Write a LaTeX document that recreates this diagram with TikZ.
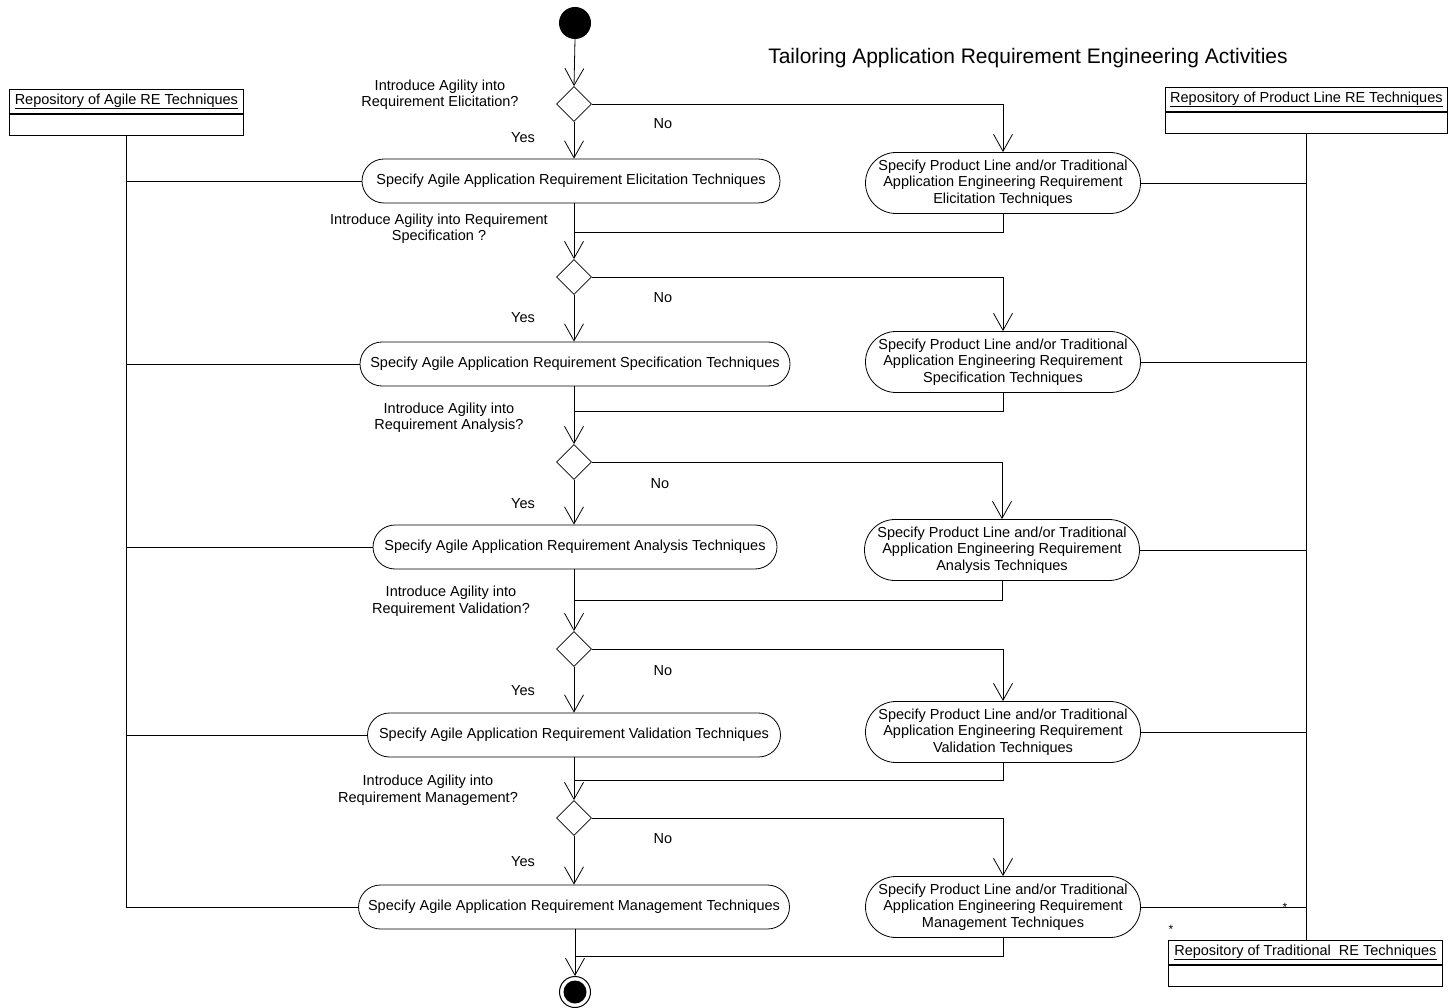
\documentclass[tikz,border=0pt]{standalone}
\usepackage{fontspec}
\setmainfont{Liberation Sans}
\usetikzlibrary{shapes.misc,shapes.geometric,arrows.meta}
\begin{document}
\begin{tikzpicture}[x=1pt,y=-1pt,
  every node/.style={font=\fontsize{14.5}{16.5}\selectfont},
  flow/.style={line width=0.8pt},
  arr/.style={flow,-{Straight Barb[length=17pt,width=19pt,line width=0.8pt]}},
  agile/.style={draw,line width=0.8pt,rounded rectangle,minimum height=44pt,inner sep=0pt},
  trad/.style={draw,line width=0.8pt,rounded rectangle,minimum height=61pt,minimum width=275pt,align=center,inner sep=0pt},
  dec/.style={draw,line width=0.8pt,diamond,aspect=1,minimum size=35pt,inner sep=0pt},
  repohead/.style={draw,line width=0.8pt,minimum height=24pt,inner sep=0pt,anchor=north west},
  repobody/.style={draw,line width=0.8pt,minimum height=21pt,inner sep=0pt,anchor=north},
  question/.style={align=center,font=\fontsize{14.5}{16.5}\selectfont},
  star/.style={font=\fontsize{12}{12}\selectfont}
]
\useasboundingbox (0,0) rectangle (1449,1008);

% title
\node (title) at (1028,58) {\fontsize{21}{23}\selectfont Tailoring Application Requirement Engineering Activities};

% start and end
\node (start) [circle,fill=black,minimum size=32pt,inner sep=0pt] at (575,23) {};
\node (end) [circle,draw,line width=1pt,minimum size=31pt,inner sep=0pt] at (575,992) {};
\fill (end.center) circle (11.5);

% decisions
\node (d1) [dec] at (574,104) {};
\node (d2) [dec] at (574,277) {};
\node (d3) [dec] at (574,462) {};
\node (d4) [dec] at (574,649) {};
\node (d5) [dec] at (574,818) {};

% agile activities
\node (a1) [agile,minimum width=418pt] at (571,181) {Specify Agile Application Requirement Elicitation Techniques};
\node (a2) [agile,minimum width=430pt] at (575,364) {Specify Agile Application Requirement Specification Techniques};
\node (a3) [agile,minimum width=404pt] at (575,547) {Specify Agile Application Requirement Analysis Techniques};
\node (a4) [agile,minimum width=413pt] at (574,735) {Specify Agile Application Requirement Validation Techniques};
\node (a5) [agile,minimum width=431pt] at (574,907) {Specify Agile Application Requirement Management Techniques};

% product line / traditional activities
\node (t1) [trad] at (1003,183) {Specify Product Line and/or Traditional\\Application Engineering Requirement\\Elicitation Techniques};
\node (t2) [trad] at (1003,362) {Specify Product Line and/or Traditional\\Application Engineering Requirement\\Specification Techniques};
\node (t3) [trad] at (1002,550) {Specify Product Line and/or Traditional\\Application Engineering Requirement\\Analysis Techniques};
\node (t4) [trad] at (1003,732) {Specify Product Line and/or Traditional\\Application Engineering Requirement\\Validation Techniques};
\node (t5) [trad] at (1003,907) {Specify Product Line and/or Traditional\\Application Engineering Requirement\\Management Techniques};

% merge points on the main flow
\coordinate (m1) at (575,232);
\coordinate (m2) at (575,411);
\coordinate (m3) at (575,600);
\coordinate (m4) at (575,780);
\coordinate (m5) at (575,956);

% repositories
\node (ra) [repohead,minimum width=234pt] at (9,89) {\underline{Repository of Agile RE Techniques}};
\node (rab) [repobody,minimum width=234pt] at (ra.south) {};
\node (rp) [repohead,minimum width=282pt] at (1165,87) {\underline{Repository of Product Line RE Techniques}};
\node (rpb) [repobody,minimum width=282pt] at (rp.south) {};
\node (rt) [repohead,minimum width=274pt] at (1168,940) {\underline{Repository of Traditional\ \ RE Techniques}};
\node (rtb) [repobody,minimum width=274pt] at (rt.south) {};

% questions
\node (q1) [question] at (440,95) {Introduce Agility into\\Requirement Elicitation?};
\node (q2) [question] at (439,229) {Introduce Agility into Requirement\\Specification ?};
\node (q3) [question] at (449,418) {Introduce Agility into\\Requirement Analysis?};
\node (q4) [question] at (451,601) {Introduce Agility into\\Requirement Validation?};
\node (q5) [question] at (428,790) {Introduce Agility into\\Requirement Management?};

% guard labels
\node (y1) at (523,138) {Yes};
\node (y2) at (523,318) {Yes};
\node (y3) at (523,504) {Yes};
\node (y4) at (523,691) {Yes};
\node (y5) at (523,862) {Yes};
\node (n1) at (663,124) {No};
\node (n2) at (663,298) {No};
\node (n3) at (660,484) {No};
\node (n4) at (663,671) {No};
\node (n5) at (663,839) {No};

% multiplicities
\node (s1) [star] at (1285,907) {*};
\node (s2) [star] at (1171,929) {*};

% main flow
\draw[arr] (start.south) -- (d1.north);
\foreach \d/\a/\t/\m/\n in {d1/a1/t1/m1/d2, d2/a2/t2/m2/d3, d3/a3/t3/m3/d4, d4/a4/t4/m4/d5, d5/a5/t5/m5/end}{
  \draw[arr] (\d.south) -- (\d.south |- \a.north);
  \draw[arr] (\d.east) -| (\t.north);
  \draw[flow] (\t.south) |- (\m);
  \draw[arr] (\n.north |- \a.south) -- (\n.north);
}

% repository links
\coordinate (la) at (rab.south |- a5.west);
\draw[flow] (rab.south) -- (la);
\coordinate (lp) at (rpb.south |- rt.north);
\draw[flow] (rpb.south) -- (lp);
\foreach \a in {a1,a2,a3,a4,a5}{
  \draw[flow] (rab.south |- \a.west) -- (\a.west);
}
\foreach \t in {t1,t2,t3,t4,t5}{
  \draw[flow] (\t.east) -- (\t.east -| rpb.south);
}
\end{tikzpicture}
\end{document}
